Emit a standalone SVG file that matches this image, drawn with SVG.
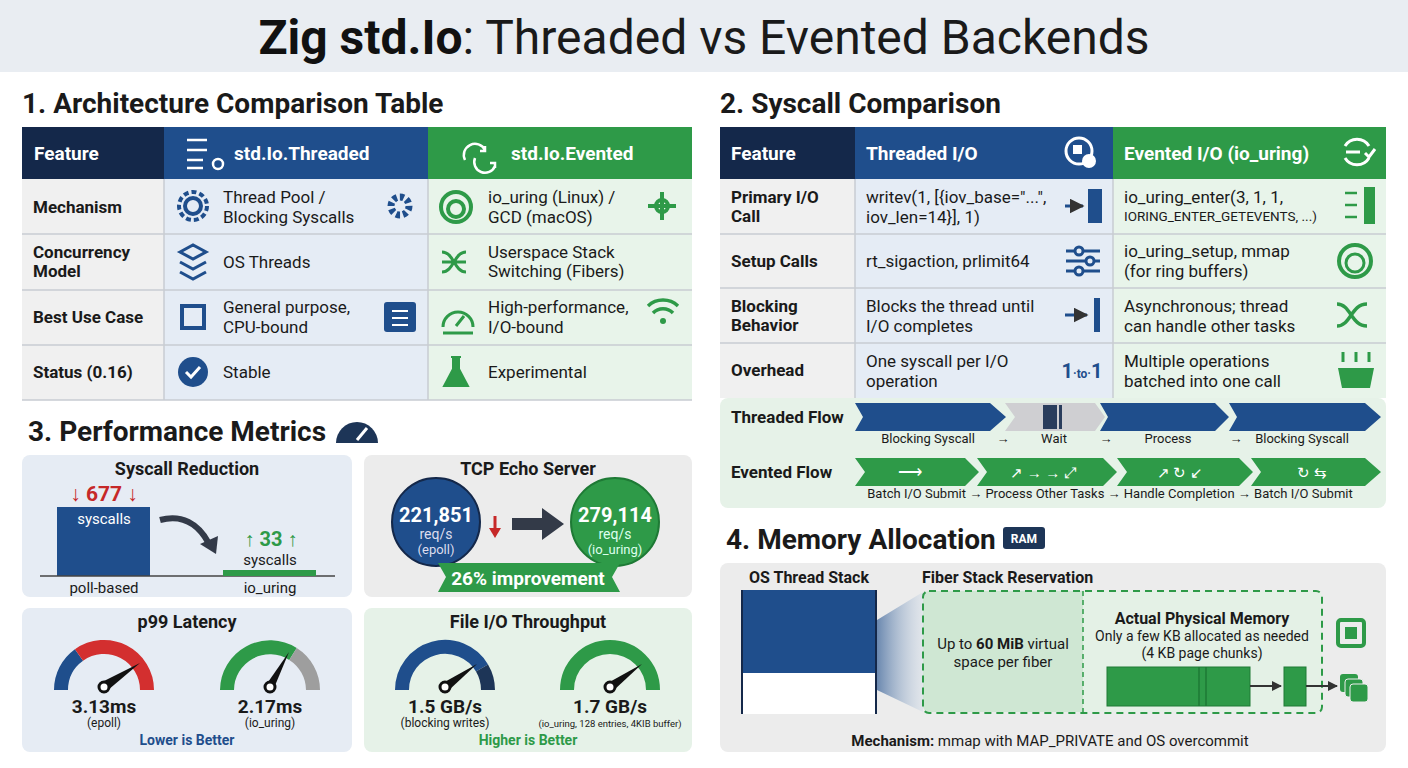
<svg xmlns="http://www.w3.org/2000/svg" width="1408" height="768" viewBox="0 0 1408 768">
<style>
text{font-family:"Roboto","Liberation Sans",sans-serif;fill:#1a1a1a}
.h1{font-size:28px;font-weight:bold}
.th{font-size:19px;font-weight:bold;fill:#fff}
.fc{font-size:17px;font-weight:bold}
.vc{font-size:17px}
.ct{font-size:18px;font-weight:bold;text-anchor:middle}
.m{text-anchor:middle}
.w{fill:#fff}
.fl{font-size:13px;text-anchor:middle}
</style>
<defs>
<marker id="ah" viewBox="0 0 10 10" refX="9" refY="5" markerWidth="5" markerHeight="5" orient="auto"><path d="M0,0L10,5L0,10z" fill="#333"/></marker>
<linearGradient id="fun" x1="0" x2="1"><stop offset="0" stop-color="#4a6fa0" stop-opacity="0.8"/><stop offset="1" stop-color="#c8d6e6" stop-opacity="0.3"/></linearGradient>
</defs>
<rect width="1408" height="768" fill="#fff"/>
<rect width="1408" height="72" fill="#e9edf2"/>
<text x="704" y="54" text-anchor="middle" style="font-size:48px"><tspan font-weight="bold" fill="#111">Zig std.Io</tspan>: Threaded vs Evented Backends</text>

<!-- Section 1 -->
<g id="table1">
<text x="22" y="113" class="h1">1. Architecture Comparison Table</text>
<rect x="22" y="127" width="142" height="52" fill="#14284a"/>
<rect x="164" y="127" width="264" height="52" fill="#1f4e8c"/>
<rect x="428" y="127" width="264" height="52" fill="#2e9a48"/>
<text x="34" y="160" class="th">Feature</text>
<text x="234" y="160" class="th">std.Io.Threaded</text>
<text x="511" y="160" class="th">std.Io.Evented</text>
<g stroke="#fff" stroke-width="2.5" fill="none"><path d="M187,140h20M187,150h20M187,160h16M187,168h16"/><circle cx="218" cy="164" r="5"/><path d="M465,160a10,10 0 0 1 20,-10M485,146v5h-5M475,158a10,10 0 0 0 20,8M495,168v-5h-5"/></g>
<g fill="#f0f0f0"><rect x="22" y="179" width="142" height="221"/></g>
<rect x="164" y="179" width="264" height="221" fill="#e5ecf5"/>
<rect x="428" y="179" width="264" height="221" fill="#e8f4ea"/>
<g stroke="#c8ccd2" stroke-width="1.5"><path d="M22,234H692M22,290H692M22,345H692M22,400H692M164,179V400M428,179V400"/></g>
<text x="33" y="213" class="fc">Mechanism</text>
<text x="33" y="258" class="fc">Concurrency</text><text x="33" y="277" class="fc">Model</text>
<text x="33" y="323" class="fc">Best Use Case</text>
<text x="33" y="378" class="fc">Status (0.16)</text>
<text x="223" y="203" class="vc">Thread Pool /</text><text x="223" y="223" class="vc">Blocking Syscalls</text>
<text x="223" y="268" class="vc">OS Threads</text>
<text x="223" y="313" class="vc">General purpose,</text><text x="223" y="333" class="vc">CPU-bound</text>
<text x="223" y="378" class="vc">Stable</text>
<text x="488" y="203" class="vc">io_uring (Linux) /</text><text x="488" y="223" class="vc">GCD (macOS)</text>
<text x="488" y="258" class="vc">Userspace Stack</text><text x="488" y="277" class="vc">Switching (Fibers)</text>
<text x="488" y="313" class="vc">High-performance,</text><text x="488" y="333" class="vc">I/O-bound</text>
<text x="488" y="378" class="vc">Experimental</text>
<g fill="none" stroke="#1f4e8c" stroke-width="4">
<circle cx="193" cy="206" r="14" stroke-dasharray="5 3"/><circle cx="193" cy="206" r="8"/>
<circle cx="400" cy="206" r="9" stroke-width="7" stroke-dasharray="4 3"/>
<path d="M180,252l13,-7 13,7 -13,7z M180,262l13,7 13,-7 M180,272l13,7 13,-7" stroke-width="3"/>
<rect x="182" y="306" width="22" height="22"/>
</g>
<rect x="384" y="302" width="32" height="30" rx="3" fill="#1f4e8c"/>
<path d="M392,311h16M392,318h16M392,325h16" stroke="#fff" stroke-width="2"/>
<circle cx="193" cy="372" r="15" fill="#1f4e8c"/>
<path d="M186,372l5,5 9,-10" stroke="#fff" stroke-width="3" fill="none"/>
<g fill="none" stroke="#2e9a48" stroke-width="4">
<circle cx="456" cy="207" r="15"/><circle cx="456" cy="209" r="8"/>
<path d="M648,206h28M662,192v28"/><circle cx="662" cy="206" r="6"/>
<path d="M442,252c12,0 12,20 24,20M442,272c12,0 12,-20 24,-20M442,262h24" stroke-width="3"/>
<path d="M443,327a15,15 0 0 1 30,0M456,326l8,-10M443,333h30" stroke-width="3"/>
<path d="M648,306a22,22 0 0 1 30,0M653,313a14,14 0 0 1 20,0" stroke-width="3.5"/>
</g>
<circle cx="663" cy="321" r="3" fill="#2e9a48"/>
<path d="M451,357h10M453,357v12l-9,17h24l-9,-17v-12" fill="#2e9a48" stroke="#2e9a48" stroke-width="2"/>
</g>

<!-- Section 2 -->
<g id="table2">
<text x="720" y="113" class="h1">2. Syscall Comparison</text>
<rect x="720" y="127" width="135" height="52" fill="#14284a"/>
<rect x="855" y="127" width="258" height="52" fill="#1f4e8c"/>
<rect x="1113" y="127" width="273" height="52" fill="#2e9a48"/>
<text x="731" y="160" class="th">Feature</text>
<text x="866" y="160" class="th">Threaded I/O</text>
<text x="1124" y="160" class="th">Evented I/O (io_uring)</text>
<circle cx="1079" cy="151" r="13" fill="none" stroke="#fff" stroke-width="3"/><rect x="1073" y="145" width="9" height="9" fill="#fff"/><circle cx="1089" cy="161" r="7" fill="#fff"/>
<path d="M1345,146a14,14 0 0 1 24,0M1369,158a14,14 0 0 1 -24,0M1346,152h14M1365,153l4,4 6,-8" fill="none" stroke="#fff" stroke-width="3"/>
<rect x="720" y="179" width="135" height="219" fill="#f0f0f0"/>
<rect x="855" y="179" width="258" height="219" fill="#e5ecf5"/>
<rect x="1113" y="179" width="273" height="219" fill="#e8f4ea"/>
<g stroke="#c8ccd2" stroke-width="1.5"><path d="M720,234H1386M720,288H1386M720,343H1386M855,179V398M1113,179V398"/></g>
<text x="731" y="203" class="fc">Primary I/O</text><text x="731" y="222" class="fc">Call</text>
<text x="731" y="267" class="fc">Setup Calls</text>
<text x="731" y="312" class="fc">Blocking</text><text x="731" y="331" class="fc">Behavior</text>
<text x="731" y="376" class="fc">Overhead</text>
<text x="866" y="203" class="vc">writev(1, [{iov_base="...",</text><text x="866" y="223" class="vc">iov_len=14}], 1)</text>
<text x="866" y="267" class="vc">rt_sigaction, prlimit64</text>
<text x="866" y="312" class="vc">Blocks the thread until</text><text x="866" y="332" class="vc">I/O completes</text>
<text x="866" y="367" class="vc">One syscall per I/O</text><text x="866" y="387" class="vc">operation</text>
<text x="1124" y="203" class="vc">io_uring_enter(3, 1, 1,</text><text x="1124" y="221" style="font-size:13.5px">IORING_ENTER_GETEVENTS, ...)</text>
<text x="1124" y="257" class="vc">io_uring_setup, mmap</text><text x="1124" y="277" class="vc">(for ring buffers)</text>
<text x="1124" y="312" class="vc">Asynchronous; thread</text><text x="1124" y="332" class="vc">can handle other tasks</text>
<text x="1124" y="367" class="vc">Multiple operations</text><text x="1124" y="387" class="vc">batched into one call</text>
<rect x="1088" y="189" width="14" height="34" fill="#1f4e8c"/><path d="M1065,206h18" stroke="#1f4e8c" stroke-width="3" marker-end="url(#ah)"/>
<g stroke="#1f4e8c" stroke-width="3" fill="#e5ecf5"><path d="M1066,251h34M1066,261h34M1066,271h34"/><circle cx="1079" cy="251" r="4"/><circle cx="1090" cy="261" r="4"/><circle cx="1079" cy="271" r="4"/></g>
<rect x="1094" y="298" width="6" height="34" fill="#1f4e8c"/><path d="M1065,315h22" stroke="#1f4e8c" stroke-width="3" marker-end="url(#ah)"/>
<text x="1082" y="378" class="m" style="font-size:20px;font-weight:bold;fill:#1f4e8c">1<tspan font-size="12">·to·</tspan>1</text>
<rect x="1364" y="187" width="11" height="37" fill="#2e9a48"/>
<g stroke="#2e9a48" stroke-width="2.5"><path d="M1345,193h12M1345,205h12M1345,217h12"/></g>
<circle cx="1355" cy="261" r="16" fill="none" stroke="#2e9a48" stroke-width="4"/><circle cx="1355" cy="263" r="9" fill="none" stroke="#2e9a48" stroke-width="3"/>
<path d="M1337,304c14,0 14,22 30,22M1337,326c14,0 14,-22 30,-22" fill="none" stroke="#2e9a48" stroke-width="3.5"/>
<path d="M1338,368h36l-4,20h-28z" fill="#2e9a48"/><path d="M1343,352v10M1356,352v10M1369,352v10" stroke="#2e9a48" stroke-width="3"/>
<rect x="720" y="398" width="666" height="110" rx="8" fill="#e6f2e8"/>
<text x="731" y="423" class="fc">Threaded Flow</text>
<text x="731" y="478" class="fc">Evented Flow</text>
<g fill="#1f4e8c">
<path d="M855,403h135l16,14 -16,14h-135l8,-14z"/>
<path d="M1100,403h115l14,14 -14,14h-115l8,-14z"/>
<path d="M1229,403h136l16,14 -16,14h-136l8,-14z"/>
</g>
<path d="M1005,403h90l10,14 -10,14h-90l10,-14z" fill="#cfcfd2"/>
<rect x="1043" y="405" width="14" height="24" fill="#2a3d5c"/><rect x="1059" y="405" width="3" height="24" fill="#2a3d5c"/>
<text x="928" y="443" class="fl">Blocking Syscall</text><text x="1003" y="443" class="fl">→</text>
<text x="1054" y="443" class="fl">Wait</text><text x="1106" y="443" class="fl">→</text>
<text x="1168" y="443" class="fl">Process</text><text x="1236" y="443" class="fl">→</text>
<text x="1302" y="443" class="fl">Blocking Syscall</text>
<g fill="#2e9a48">
<path d="M855,458h110l14,14 -14,14h-110l10,-14z"/>
<path d="M977,458h126l14,14 -14,14h-126l10,-14z"/>
<path d="M1117,458h122l14,14 -14,14h-122l10,-14z"/>
<path d="M1251,458h114l16,14 -16,14h-114l10,-14z"/>
</g>
<text x="910" y="478" class="m w" style="font-size:17px">⟶</text>
<text x="1043" y="478" class="m w" style="font-size:15px">↗ → → ⤢</text>
<text x="1180" y="478" class="m w" style="font-size:15px">↗ ↻ ↙</text>
<text x="1312" y="478" class="m w" style="font-size:15px">↻ ⇆</text>
<text x="1110" y="498" class="fl">Batch I/O Submit → Process Other Tasks → Handle Completion → Batch I/O Submit</text>
</g>

<g id="perf">
<text x="28" y="441" class="h1">3. Performance Metrics</text>
<path d="M336,443a21,21 0 0 1 42,0z" fill="#1d3557"/><path d="M357,440l10,-12" stroke="#fff" stroke-width="3"/>
</g>
<g id="syscall-card">
<rect x="22" y="455" width="330" height="142" rx="8" fill="#e6ecf4"/>
<text x="187" y="475" class="ct">Syscall Reduction</text>
<text x="104" y="501" class="m" style="font-size:21px;font-weight:bold;fill:#c62828">↓ 677 ↓</text>
<rect x="57" y="507" width="93" height="69" fill="#1f4e8c"/>
<text x="104" y="524" class="m w" style="font-size:15px">syscalls</text>
<path d="M40,576H335" stroke="#444" stroke-width="1.5"/>
<rect x="223" y="570" width="93" height="6" fill="#2e9a48"/>
<text x="271" y="546" class="m" style="font-size:20px;font-weight:bold;fill:#2e9a48">↑ 33 ↑</text>
<text x="270" y="565" class="m" style="font-size:15px">syscalls</text>
<text x="104" y="593" class="m" style="font-size:15px">poll-based</text>
<text x="270" y="593" class="m" style="font-size:15px">io_uring</text>
<path d="M160,520c22,-6 38,4 48,22" fill="none" stroke="#333a48" stroke-width="6"/><path d="M200,544l16,10 2,-18z" fill="#333a48"/>
</g>
<g id="tcp-card">
<rect x="364" y="455" width="328" height="142" rx="8" fill="#ececec"/>
<text x="528" y="475" class="ct">TCP Echo Server</text>
<circle cx="436" cy="522" r="44" fill="#1f4e8c" stroke="#14284a" stroke-width="2"/>
<circle cx="615" cy="522" r="44" fill="#2e9a48" stroke="#1e7a35" stroke-width="2"/>
<text x="436" y="522" class="m w" style="font-size:20px;font-weight:bold">221,851</text>
<text x="436" y="539" class="m w" style="font-size:14px;fill:#dde">req/s</text>
<text x="436" y="554" class="m w" style="font-size:13px;fill:#dde">(epoll)</text>
<text x="615" y="522" class="m w" style="font-size:20px;font-weight:bold">279,114</text>
<text x="615" y="539" class="m w" style="font-size:14px;fill:#dfe">req/s</text>
<text x="615" y="554" class="m w" style="font-size:13px;fill:#dfe">(io_uring)</text>
<path d="M495,516v14" stroke="#c62828" stroke-width="3"/><path d="M489,528l6,10 6,-10z" fill="#c62828"/>
<path d="M512,518h30v-10l22,16 -22,16v-10h-30z" fill="#333a48"/>
<path d="M438,563h182l-8,14 8,15h-182l8,-15z" fill="#2e9a48"/>
<text x="528" y="585" class="m w" style="font-size:19px;font-weight:bold">26% improvement</text>
</g>
<g id="p99-card">
<rect x="22" y="608" width="330" height="144" rx="8" fill="#e6ecf4"/>
<text x="187" y="628" class="ct">p99 Latency</text>
<g fill="none" stroke-width="14">
<path d="M61,690A43,43 0 0 1 79,655" stroke="#1f4e8c"/>
<path d="M79,655A43,43 0 0 1 147,690" stroke="#d32f2f"/>
<path d="M227,690A43,43 0 0 1 293,654" stroke="#2e9a48"/>
<path d="M293,654A43,43 0 0 1 313,690" stroke="#9e9e9e"/>
</g>
<path d="M100,683l8,7 32,-27z" fill="#111"/><circle cx="104" cy="687" r="5" fill="#fff" stroke="#111" stroke-width="3"/>
<path d="M266,685l8,3 15,-36z" fill="#111"/><circle cx="270" cy="687" r="5" fill="#fff" stroke="#111" stroke-width="3"/>
<text x="104" y="713" class="m" style="font-size:19px;font-weight:bold">3.13ms</text>
<text x="104" y="727" class="m" style="font-size:12px">(epoll)</text>
<text x="270" y="713" class="m" style="font-size:19px;font-weight:bold">2.17ms</text>
<text x="270" y="727" class="m" style="font-size:12px">(io_uring)</text>
<text x="187" y="745" class="m" style="font-size:14px;font-weight:bold;fill:#1f4e8c">Lower is Better</text>
</g>
<g id="fileio-card">
<rect x="364" y="608" width="328" height="144" rx="8" fill="#e6f2e8"/>
<text x="528" y="628" class="ct">File I/O Throughput</text>
<g fill="none" stroke-width="14">
<path d="M402,690A43,43 0 0 1 482,668" stroke="#1f4e8c"/>
<path d="M482,668A43,43 0 0 1 488,690" stroke="#1d3557"/>
<path d="M567,690A43,43 0 0 1 653,690" stroke="#2e9a48"/>
</g>
<path d="M441,684l8,6 28,-26z" fill="#111"/><circle cx="445" cy="687" r="5" fill="#fff" stroke="#111" stroke-width="3"/>
<path d="M606,684l8,6 28,-26z" fill="#111"/><circle cx="610" cy="687" r="5" fill="#fff" stroke="#111" stroke-width="3"/>
<text x="445" y="713" class="m" style="font-size:19px;font-weight:bold">1.5 GB/s</text>
<text x="445" y="727" class="m" style="font-size:12px">(blocking writes)</text>
<text x="610" y="713" class="m" style="font-size:19px;font-weight:bold">1.7 GB/s</text>
<text x="610" y="727" class="m" style="font-size:9.5px">(io_uring, 128 entries, 4KIB buffer)</text>
<text x="528" y="745" class="m" style="font-size:14px;font-weight:bold;fill:#2e9a48">Higher is Better</text>
</g>

<g id="memory">
<text x="726" y="549" class="h1">4. Memory Allocation</text>
<rect x="1003" y="527" width="42" height="22" rx="3" fill="#1d3557"/>
<text x="1024" y="543" class="m w" style="font-size:12px;font-weight:bold">RAM</text>
<rect x="720" y="563" width="666" height="189" rx="8" fill="#ececec"/>
<text x="809" y="583" class="m" style="font-size:16px;font-weight:bold">OS Thread Stack</text>
<text x="922" y="583" style="font-size:16px;font-weight:bold">Fiber Stack Reservation</text>
<rect x="741" y="590" width="136" height="83" fill="#1f4e8c"/>
<rect x="742" y="673" width="134" height="41" fill="#fff"/>
<path d="M742,590V714M876,590V714" stroke="#14284a" stroke-width="2"/>
<path d="M877,620L923,592V712L877,690z" fill="url(#fun)"/>
<path d="M929,591h154v121h-154a6,6 0 0 1 -6,-6v-109a6,6 0 0 1 6,-6z" fill="#cfe7d3"/>
<path d="M1083,591h233a6,6 0 0 1 6,6v109a6,6 0 0 1 -6,6h-233z" fill="#e4f1e6"/>
<rect x="923" y="591" width="399" height="122" rx="6" fill="none" stroke="#2e9a48" stroke-width="2" stroke-dasharray="7 5"/>
<path d="M1083,591V713" stroke="#2e9a48" stroke-width="1.5" stroke-dasharray="5 4"/>
<text x="1003" y="649" class="m" style="font-size:15px">Up to <tspan font-weight="bold">60 MiB</tspan> virtual</text>
<text x="1003" y="667" class="m" style="font-size:15px">space per fiber</text>
<text x="1202" y="624" class="m" style="font-size:16px;font-weight:bold">Actual Physical Memory</text>
<text x="1202" y="641" class="m" style="font-size:14px">Only a few KB allocated as needed</text>
<text x="1202" y="658" class="m" style="font-size:14px">(4 KB page chunks)</text>
<rect x="1107" y="667" width="143" height="39" fill="#2e9a48" stroke="#1e7a35"/>
<path d="M1199,667v39M1206,667v39" stroke="#1e7a35" stroke-width="1.5"/>
<path d="M1250,686h31" stroke="#333" stroke-width="2" marker-end="url(#ah)"/>
<rect x="1284" y="667" width="22" height="39" fill="#2e9a48" stroke="#1e7a35"/>
<path d="M1306,686h31" stroke="#333" stroke-width="2" marker-end="url(#ah)"/>
<rect x="1340" y="674" width="18" height="18" rx="3" fill="#2e9a48"/>
<rect x="1345" y="679" width="18" height="18" rx="3" fill="#2e9a48" stroke="#ececec"/>
<rect x="1350" y="684" width="18" height="18" rx="3" fill="#2e9a48" stroke="#ececec"/>
<rect x="1338" y="620" width="26" height="26" rx="3" fill="none" stroke="#2e9a48" stroke-width="4"/>
<rect x="1345" y="627" width="12" height="12" fill="#2e9a48"/>
<text x="1050" y="746" class="m" style="font-size:15px"><tspan font-weight="bold">Mechanism:</tspan> mmap with MAP_PRIVATE and OS overcommit</text>
</g>
</svg>
